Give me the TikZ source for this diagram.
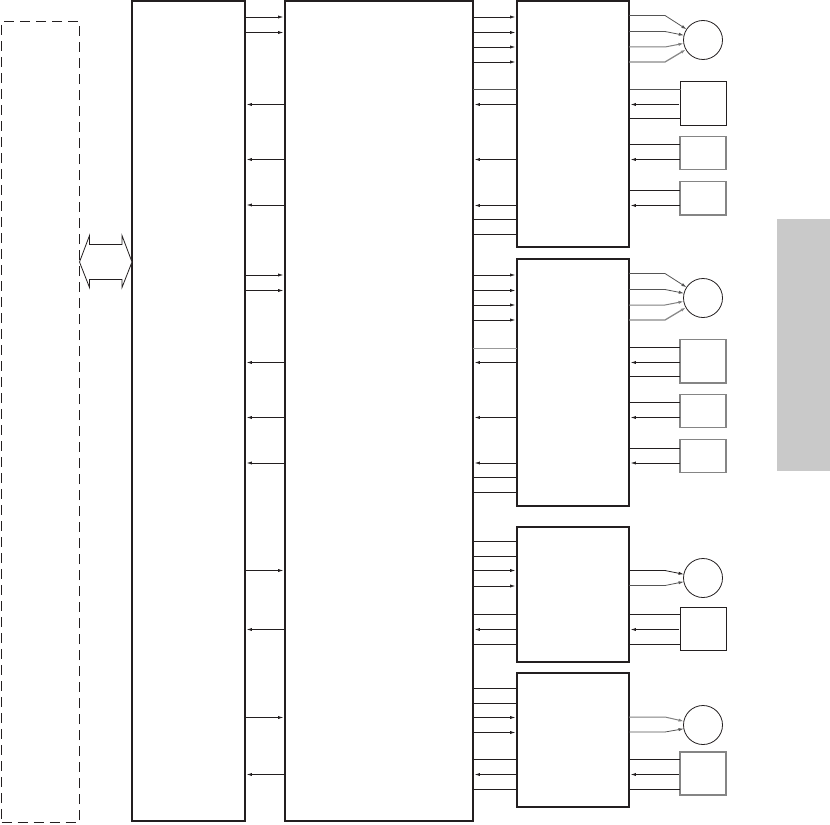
\documentclass[tikz,border=0pt]{standalone}
\usetikzlibrary{arrows.meta}
\definecolor{ink}{HTML}{231F20}
\definecolor{softink}{HTML}{555555}
\definecolor{softgray}{HTML}{999999}
\definecolor{boxgray}{HTML}{858585}
\definecolor{band}{HTML}{C9C9C9}
\tikzset{
  x=0.75pt,y=-0.75pt,
  boxbase/.style={outer sep=0pt,inner sep=0pt,anchor=center},
  block/.style={boxbase,draw=ink,line width=1.35pt},
  thinbox/.style={boxbase,draw=ink,line width=0.6pt},
  softbox/.style={boxbase,draw=boxgray,line width=0.85pt},
  dashbox/.style={boxbase,draw=ink,line width=0.6pt,dash pattern=on 7.5pt off 4.5pt},
  roundel/.style={boxbase,circle,draw=ink,line width=0.6pt,minimum size=29.25pt},
  wire/.style={draw=ink,line width=0.6pt},
  softwire/.style={draw=softink,line width=0.6pt},
  palewire/.style={draw=softgray,line width=0.9pt},
  fwd/.style={wire,-{Latex[length=4pt,width=2.4pt]},shorten >=1.2pt},
  bwd/.style={wire,-{Latex[length=4pt,width=2.4pt]},shorten >=1.2pt},
  gapped/.style={wire,shorten <=1pt},
}
% name, style, x1, y1, x2, y2
\newcommand{\blk}[6]{%
  \node[#2,minimum width={(#5-#3)*0.75pt},minimum height={(#6-#4)*0.75pt}] (#1)
    at ({(#3+#5)/2},{(#4+#6)/2}) {};}
\begin{document}
\begin{tikzpicture}
\useasboundingbox (0,0) rectangle (830,824);
\fill[band] (777,219) rectangle (830,471);

\blk{D}{dashbox}{1.5}{21.5}{79.5}{822}
\blk{A}{block}{132}{1}{245}{821}
\blk{B}{block}{285}{1}{473}{821}
\blk{P}{block}{517}{1}{629}{247}
\blk{Q}{block}{517}{259}{629}{506}
\blk{S}{block}{517}{527}{629}{662}
\blk{T}{block}{517}{673}{629}{807}

\node[roundel] (C1) at (703,40) {};
\node[roundel] (C2) at (703,298) {};
\node[roundel] (C3) at (703,578) {};
\node[roundel] (C4) at (703,725) {};

\blk{R1}{thinbox}{680.5}{81}{726}{125}
\blk{R2}{softbox}{680}{136.5}{726}{169.5}
\blk{R3}{softbox}{680}{181.5}{726}{215}
\blk{R4}{softbox}{680}{339.5}{726}{383}
\blk{R5}{softbox}{680}{394.5}{726}{427.5}
\blk{R6}{softbox}{680}{439.5}{726}{472.5}
\blk{R7}{thinbox}{680.5}{607.5}{726}{650}
\blk{R8}{softbox}{680}{752}{726}{795}

% double arrow between the dashed frame and the first block
\draw[ink,line width=0.6pt,fill=white] (D.east |- 0,262) -- (89.5,235.5) -- (89.5,244.5) -- (122,244.5)
  -- (122,235.5) -- (A.west |- 0,262) -- (122,287.5) -- (122,279.5) -- (89.5,279.5) -- (89.5,287.5) -- cycle;

% A <-> B
\foreach \y in {17,32.5,275,290.5,570.5,717.5}
  \draw[fwd] (A.east |- 0,\y) -- (B.west |- 0,\y);
\foreach \y in {104.5,159.5,205,362.5,417.5,463,629.5,774.5}
  \draw[bwd] (B.west |- 0,\y) -- (A.east |- 0,\y);

% B <-> P
\foreach \y in {17,32.5,47,62}
  \draw[fwd] (B.east |- 0,\y) -- (P.west |- 0,\y);
\draw[softwire] (B.east |- 0,89.5) -- (P.west |- 0,89.5);
\foreach \y in {104.5,159.5,205.5}
  \draw[bwd] (P.west |- 0,\y) -- (B.east |- 0,\y);
\foreach \y in {219.5,234.5}
  \draw[wire] (B.east |- 0,\y) -- (P.west |- 0,\y);

% B <-> Q
\foreach \y in {275,290.5,305,320}
  \draw[fwd] (B.east |- 0,\y) -- (Q.west |- 0,\y);
\draw[palewire] (B.east |- 0,348.5) -- (Q.west |- 0,348.5);
\foreach \y in {362.5,417.5,463}
  \draw[bwd] (Q.west |- 0,\y) -- (B.east |- 0,\y);
\foreach \y in {477.5,492.5}
  \draw[wire] (B.east |- 0,\y) -- (Q.west |- 0,\y);

% B <-> S
\foreach \y in {541.5,556.5,614.5,644.5}
  \draw[wire] (B.east |- 0,\y) -- (S.west |- 0,\y);
\foreach \y in {570.5,586}
  \draw[fwd] (B.east |- 0,\y) -- (S.west |- 0,\y);
\draw[bwd] (S.west |- 0,629.5) -- (B.east |- 0,629.5);

% B <-> T
\foreach \y in {688.5,703.5,759.5,789.5}
  \draw[wire] (B.east |- 0,\y) -- (T.west |- 0,\y);
\foreach \y in {717.5,732.5}
  \draw[fwd] (B.east |- 0,\y) -- (T.west |- 0,\y);
\draw[bwd] (T.west |- 0,774.5) -- (B.east |- 0,774.5);

% blocks to circles
\tikzset{tipin/.style={-{Latex[length=4pt,width=2.4pt]}}}
\draw[tipin,softwire] (P.east |- 0,15.5) -- (665,15.5) -- (C1.147);
\draw[tipin,softwire] (P.east |- 0,31.5) -- (665,31.5) -- (C1.166);
\draw[tipin,draw=softink!75,line width=0.75pt] (P.east |- 0,47) -- (665,47) -- (C1.190);
\draw[tipin,draw=softink!70,line width=0.95pt] (P.east |- 0,62) -- (665,62) -- (C1.209);
\draw[tipin,softwire] (Q.east |- 0,273.5) -- (665,273.5) -- (C2.147);
\draw[tipin,softwire] (Q.east |- 0,289.5) -- (665,289.5) -- (C2.166);
\draw[tipin,draw=softink!75,line width=0.75pt] (Q.east |- 0,305) -- (665,305) -- (C2.190);
\draw[tipin,draw=softink!70,line width=0.95pt] (Q.east |- 0,320) -- (665,320) -- (C2.209);
\draw[tipin,wire] (S.east |- 0,570.5) -- (665,570.5) -- (C3.169);
\draw[tipin,softwire] (S.east |- 0,585.5) -- (665,585.5) -- (C3.191);
\draw[tipin,draw=softink!75,line width=0.75pt] (T.east |- 0,717) -- (665,717) -- (C4.169);
\draw[tipin,softwire] (T.east |- 0,732) -- (665,732) -- (C4.191);

% rectangles to blocks
\draw[softwire,shorten <=1pt] (P.east |- 0,89.5) -- (R1.west |- 0,89.5);
\foreach \y in {118.5}
  \draw[gapped] (P.east |- 0,\y) -- (R1.west |- 0,\y);
\draw[bwd,shorten <=1pt] (R1.west |- 0,104.5) -- (P.east |- 0,104.5);
\draw[gapped] (P.east |- 0,144.5) -- (R2.west |- 0,144.5);
\draw[bwd] (R2.west |- 0,159.5) -- (P.east |- 0,159.5);
\draw[gapped] (P.east |- 0,190.5) -- (R3.west |- 0,190.5);
\draw[bwd] (R3.west |- 0,205.5) -- (P.east |- 0,205.5);

\draw[gapped] (Q.east |- 0,347.5) -- (R4.west |- 0,347.5);
\draw[bwd] (R4.west |- 0,362.5) -- (Q.east |- 0,362.5);
\draw[gapped] (Q.east |- 0,376.5) -- (R4.west |- 0,376.5);
\draw[gapped] (Q.east |- 0,402.5) -- (R5.west |- 0,402.5);
\draw[bwd] (R5.west |- 0,417.5) -- (Q.east |- 0,417.5);
\draw[gapped] (Q.east |- 0,448.5) -- (R6.west |- 0,448.5);
\draw[bwd] (R6.west |- 0,463) -- (Q.east |- 0,463);

\draw[gapped] (S.east |- 0,614.5) -- (R7.west |- 0,614.5);
\draw[bwd,shorten <=1pt] (R7.west |- 0,629.5) -- (S.east |- 0,629.5);
\draw[gapped] (S.east |- 0,644.5) -- (R7.west |- 0,644.5);

\draw[gapped] (T.east |- 0,759.5) -- (R8.west |- 0,759.5);
\draw[bwd,shorten <=1pt] (R8.west |- 0,774.5) -- (T.east |- 0,774.5);
\draw[gapped] (T.east |- 0,789.5) -- (R8.west |- 0,789.5);
\end{tikzpicture}
\end{document}
